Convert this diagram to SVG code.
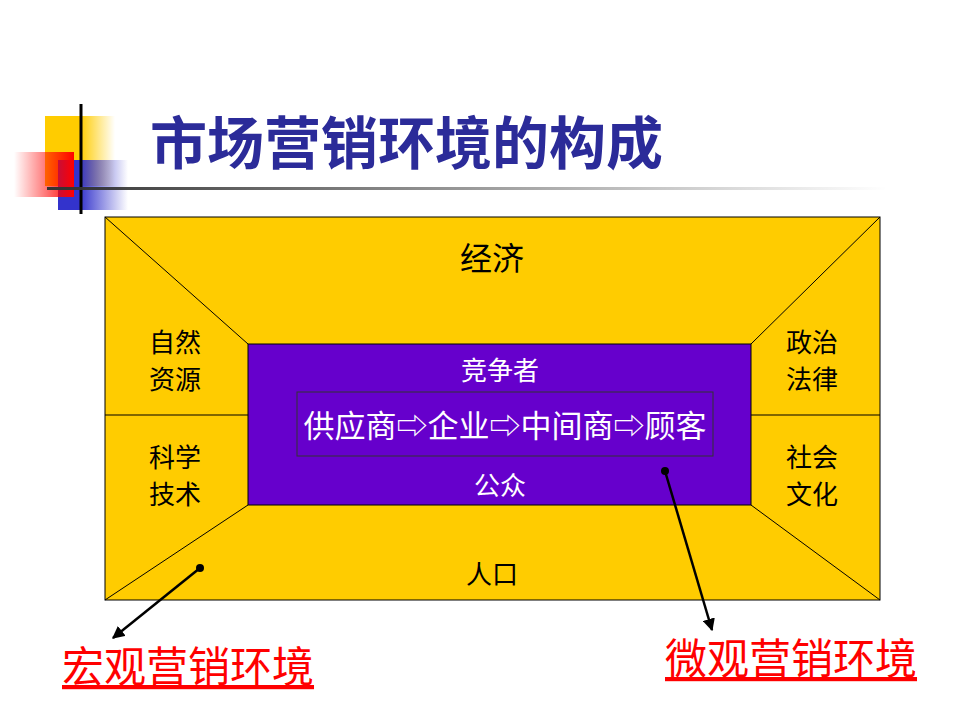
<svg xmlns="http://www.w3.org/2000/svg" width="960" height="720" viewBox="0 0 960 720">
<defs>
<linearGradient id="gy" x1="0" x2="1"><stop offset="0.5" stop-color="#FFCC00"/><stop offset="1" stop-color="#FFCC00" stop-opacity="0"/></linearGradient>
<linearGradient id="gb" x1="0" x2="1"><stop offset="0.3" stop-color="#3333CC"/><stop offset="1" stop-color="#3333CC" stop-opacity="0"/></linearGradient>
<linearGradient id="gr" x1="1" x2="0"><stop offset="0" stop-color="#FF0000"/><stop offset="1" stop-color="#FF0000" stop-opacity="0"/></linearGradient>
<linearGradient id="gl" x1="0" x2="1"><stop offset="0" stop-color="#333"/><stop offset="1" stop-color="#333" stop-opacity="0"/></linearGradient>
<marker id="ah" viewBox="0 0 10 10" refX="9" refY="5" markerWidth="5" markerHeight="5" orient="auto"><path d="M0,0L10,5L0,10z" fill="#000"/></marker>
<style>
.t{font-family:"Noto Sans CJK SC",sans-serif;font-size:26px;fill:#000;text-anchor:middle}
.w{fill:#fff}
.r{font-family:"Noto Sans CJK SC",sans-serif;font-size:42px;fill:#FF0000;text-decoration:underline}
.ln{stroke:#000;stroke-width:1;fill:none}
.ar{stroke:#000;stroke-width:2.5;fill:none}
</style>
</defs>
<g id="logo">
<rect x="45" y="116" width="70" height="70" fill="url(#gy)"/>
<rect x="58" y="160" width="70" height="50" fill="url(#gb)"/>
<rect x="14" y="152" width="60" height="45" fill="url(#gr)"/>
<line x1="81" y1="104" x2="81" y2="214" stroke="#000" stroke-width="3"/>
<rect x="47" y="187" width="840" height="3" fill="url(#gl)"/>
</g>
<text x="150" y="164" font-family="Noto Sans CJK SC,sans-serif" font-size="57" font-weight="bold" fill="#2B2B99">市场营销环境的构成</text>
<g id="macro">
<rect x="105" y="217" width="775" height="383" fill="#FFCC00" stroke="#000"/>
<path class="ln" d="M105,217L248,344M880,217L751,344M105,600L248,505M880,600L751,505M105,415H248M751,415H880"/>
<text class="t" x="492" y="270" style="font-size:32px">经济</text>
<text class="t" x="175" y="352">自然</text><text class="t" x="175" y="389">资源</text>
<text class="t" x="175" y="467">科学</text><text class="t" x="175" y="504">技术</text>
<text class="t" x="812" y="352">政治</text><text class="t" x="812" y="389">法律</text>
<text class="t" x="812" y="467">社会</text><text class="t" x="812" y="504">文化</text>
<text class="t" x="492" y="584">人口</text>
</g>
<g id="micro">
<rect x="248" y="344" width="503" height="161" fill="#6600CC" stroke="#000"/>
<text class="t w" x="500" y="380">竞争者</text>
<rect x="297" y="392" width="416" height="64" fill="none" stroke="#333"/>
<text class="t w" x="505" y="437" style="font-size:31px">供应商⇨企业⇨中间商⇨顾客</text>
<text class="t w" x="500" y="495">公众</text>
</g>
<g id="connectors">
<circle cx="200" cy="568" r="4"/>
<line class="ar" x1="200" y1="568" x2="113" y2="638" marker-end="url(#ah)"/>
<circle cx="665" cy="471" r="4"/>
<line class="ar" x1="665" y1="471" x2="712" y2="630" marker-end="url(#ah)"/>
</g>
<g id="labels">
<text class="r" x="62" y="682">宏观营销环境</text>
<text class="r" x="665" y="674">微观营销环境</text>
</g>
</svg>
